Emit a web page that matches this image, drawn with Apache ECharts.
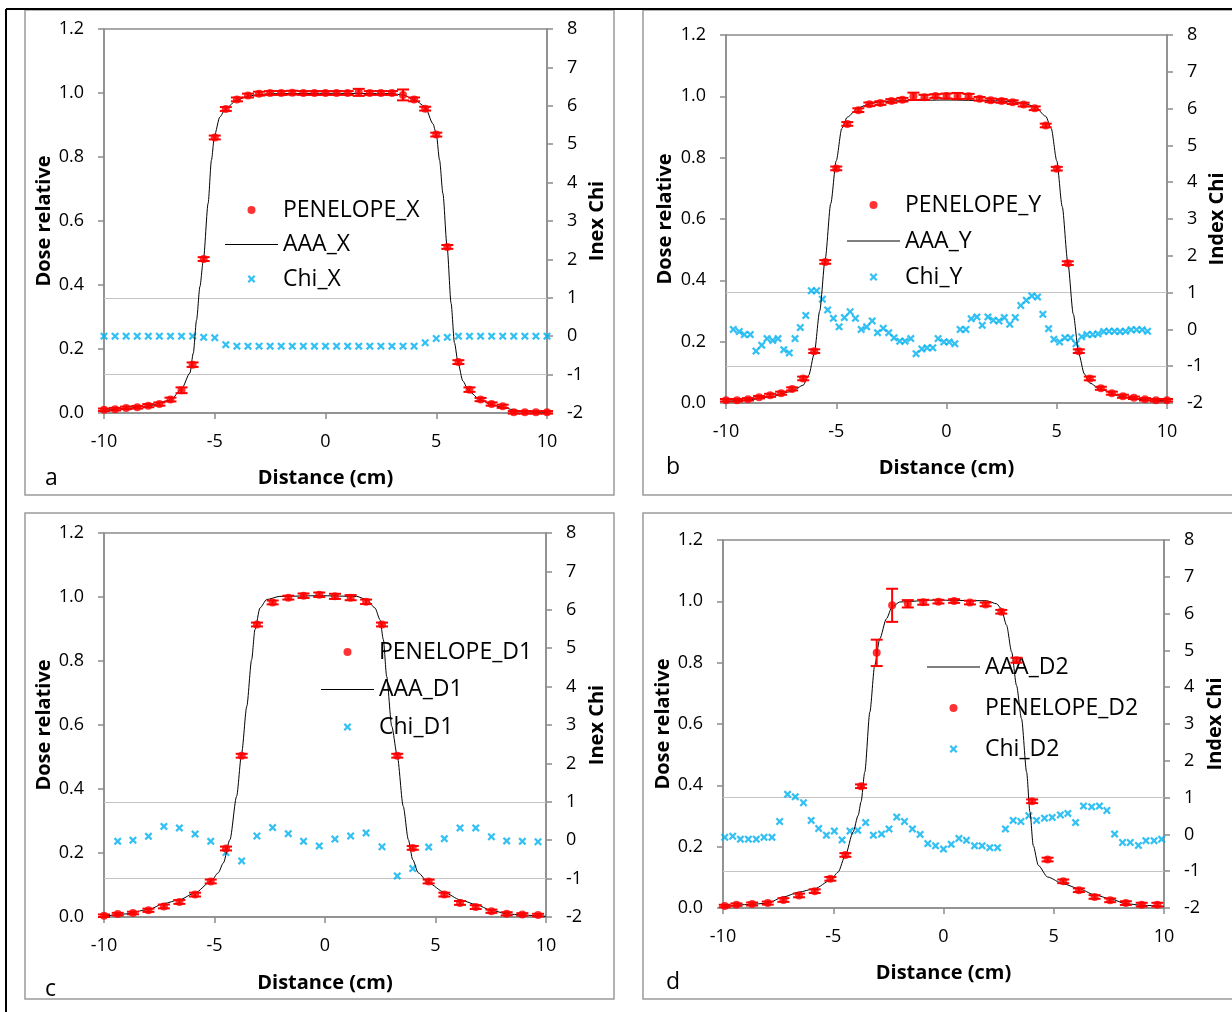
<!DOCTYPE html>
<html><head><meta charset="utf-8">
<script src="https://cdn.jsdelivr.net/npm/echarts@6/dist/echarts.min.js"></script>
<style>html,body{margin:0;padding:0;background:#fff}#c{width:1232px;height:1012px}</style>
</head><body><div id="c"></div>
<script>
// ---------------- DATA ----------------
// Panel a (X profile)
const penX_x = [-10,-9.5,-9,-8.5,-8,-7.5,-7,-6.5,-6,-5.5,-5,-4.5,-4,-3.5,-3,-2.5,-2,-1.5,-1,-0.5,0,0.5,1,1.5,2,2.5,3,3.5,4,4.5,5,5.5,6,6.5,7,7.5,8,8.5,9,9.5,10];
const penX_y = [0.010,0.012,0.016,0.018,0.023,0.028,0.042,0.071,0.151,0.481,0.861,0.950,0.980,0.992,0.998,1.000,1.000,1.001,1.000,1.000,1.000,1.000,1.000,1.002,1.000,1.000,1.000,0.994,0.980,0.951,0.870,0.519,0.159,0.073,0.042,0.028,0.021,0.002,0.002,0.002,0.002];
const penX_err = [0.004,0.004,0.004,0.004,0.005,0.005,0.006,0.009,0.007,0.006,0.006,0.006,0.006,0.006,0.006,0.006,0.006,0.006,0.006,0.006,0.006,0.006,0.006,0.011,0.006,0.006,0.006,0.017,0.006,0.006,0.006,0.006,0.006,0.007,0.005,0.005,0.005,0.004,0.004,0.004,0.004];
const aaaX_x = [-10,-9,-8,-7,-6.5,-6.12,-5.97,-5.82,-5.67,-5.51,-5.30,-5.15,-5.01,-4.77,-4.52,-4.02,-3.51,-3.01,-2.52,0,2.98,3.49,3.99,4.49,4.85,5.0,5.15,5.30,5.49,5.67,5.82,5.99,6.20,6.48,6.98,7.49,7.99,8.48,8.98,9.49,10];
const aaaX_y = [0.008,0.014,0.022,0.040,0.075,0.125,0.187,0.291,0.395,0.481,0.655,0.790,0.868,0.925,0.950,0.977,0.990,0.995,0.998,0.999,0.998,0.994,0.980,0.958,0.904,0.873,0.790,0.686,0.519,0.343,0.220,0.155,0.100,0.067,0.042,0.026,0.018,0.010,0.005,0.003,0.002];
const chiX_x = [-10,-9.5,-9,-8.5,-8,-7.5,-7,-6.5,-6,-5.5,-5,-4.5,-4,-3.5,-3,-2.5,-2,-1.5,-1,-0.5,0,0.5,1,1.5,2,2.5,3,3.5,4,4.5,5,5.5,6,6.5,7,7.5,8,8.5,9,9.5,10];
const chiX_y = [0,0,0,0,0,0,0,0,0,-0.03,-0.04,-0.22,-0.26,-0.26,-0.26,-0.26,-0.26,-0.26,-0.26,-0.26,-0.26,-0.26,-0.26,-0.26,-0.26,-0.26,-0.26,-0.26,-0.26,-0.17,-0.06,-0.03,0,0,0,0,0,0,0,0,0];

// Panel b (Y profile)
const penY_x = [-10,-9.5,-9,-8.5,-8,-7.5,-7,-6.5,-6,-5.5,-5,-4.5,-4,-3.5,-3,-2.5,-2,-1.5,-1,-0.5,0,0.5,1,1.5,2,2.5,3,3.5,4,4.5,5,5.5,6,6.5,7,7.5,8,8.5,9,9.5,10];
const penY_y = [0.009,0.009,0.012,0.019,0.025,0.032,0.046,0.080,0.169,0.460,0.765,0.910,0.955,0.974,0.978,0.985,0.989,1.000,0.997,1.001,1.001,1.001,1.000,0.992,0.987,0.985,0.981,0.973,0.961,0.905,0.764,0.456,0.169,0.080,0.048,0.032,0.022,0.017,0.012,0.009,0.009];
const penY_err = [0.004,0.004,0.004,0.004,0.005,0.005,0.005,0.006,0.006,0.006,0.006,0.006,0.006,0.006,0.006,0.006,0.006,0.012,0.008,0.006,0.008,0.010,0.008,0.006,0.006,0.006,0.006,0.006,0.006,0.006,0.006,0.006,0.006,0.006,0.005,0.005,0.005,0.004,0.004,0.004,0.004];
const aaaY_x = [-10,-9,-8,-7,-6.5,-6.25,-6.0,-5.75,-5.5,-5.25,-5.0,-4.75,-4.5,-4.0,-3.5,-3.0,-2.0,0,2.0,3.0,3.5,4.0,4.5,4.75,5.0,5.25,5.5,5.75,6.0,6.25,6.5,7,8,9,10];
const aaaY_y = [0.005,0.010,0.020,0.038,0.058,0.090,0.160,0.300,0.470,0.650,0.790,0.895,0.932,0.963,0.975,0.983,0.986,0.988,0.986,0.983,0.977,0.967,0.935,0.895,0.790,0.640,0.460,0.290,0.160,0.095,0.065,0.043,0.020,0.010,0.007];
const chiY_x = [-9.67,-9.4,-9.17,-8.9,-8.64,-8.38,-8.14,-7.88,-7.64,-7.38,-7.13,-6.87,-6.63,-6.38,-6.13,-5.89,-5.63,-5.39,-5.13,-4.87,-4.63,-4.37,-4.13,-3.87,-3.62,-3.37,-3.13,-2.87,-2.62,-2.38,-2.12,-1.88,-1.62,-1.38,-1.12,-0.88,-0.62,-0.38,-0.12,0.12,0.38,0.62,0.88,1.12,1.38,1.62,1.88,2.12,2.38,2.62,2.87,3.12,3.37,3.62,3.87,4.13,4.37,4.63,4.87,5.13,5.37,5.63,5.87,6.13,6.37,6.63,6.87,7.13,7.37,7.62,7.87,8.12,8.37,8.62,8.87,9.12];
const chiY_y = [0.0,-0.06,-0.14,-0.14,-0.59,-0.43,-0.25,-0.30,-0.25,-0.55,-0.64,-0.25,0.05,0.38,1.05,1.05,0.82,0.53,0.30,0.07,0.32,0.48,0.30,0.0,0.07,0.23,-0.09,0.03,-0.09,-0.23,-0.32,-0.32,-0.25,-0.66,-0.53,-0.50,-0.50,-0.25,-0.34,-0.34,-0.39,0.0,0.0,0.29,0.34,0.11,0.34,0.25,0.23,0.32,0.14,0.32,0.65,0.79,0.91,0.88,0.41,0.02,-0.27,-0.34,-0.23,-0.23,-0.39,-0.20,-0.14,-0.14,-0.12,-0.06,-0.05,-0.05,-0.06,-0.05,-0.01,-0.01,-0.01,-0.05];

// Panel c (diagonal D1)
const penD1_x = [-10.0,-9.38,-8.69,-7.99,-7.29,-6.59,-5.88,-5.17,-4.48,-3.77,-3.08,-2.37,-1.66,-0.97,-0.26,0.45,1.16,1.86,2.58,3.27,3.97,4.69,5.40,6.11,6.82,7.53,8.22,8.93,9.64];
const penD1_y = [0.004,0.009,0.0125,0.021,0.033,0.047,0.070,0.111,0.214,0.504,0.914,0.983,0.998,1.004,1.007,1.002,0.998,0.985,0.914,0.504,0.216,0.111,0.070,0.044,0.031,0.018,0.010,0.008,0.006];
const penD1_err = [0.004,0.004,0.004,0.005,0.006,0.006,0.006,0.006,0.006,0.006,0.006,0.006,0.006,0.007,0.007,0.008,0.008,0.007,0.006,0.006,0.006,0.006,0.006,0.006,0.006,0.005,0.005,0.004,0.004];
const aaaD1_x = [-10,-9.13,-7.99,-7.29,-6.59,-5.88,-5.17,-4.83,-4.60,-4.30,-4.0,-3.77,-3.54,-3.32,-3.17,-2.94,-2.64,-2.04,-0.26,1.43,1.89,2.26,2.49,2.64,2.79,3.02,3.27,3.54,3.77,3.97,4.22,4.69,5.40,6.11,6.82,7.53,8.22,8.93,10];
const aaaD1_y = [0.002,0.009,0.023,0.042,0.054,0.075,0.111,0.138,0.169,0.242,0.377,0.513,0.658,0.804,0.898,0.966,0.992,1.002,1.004,1.002,0.992,0.966,0.929,0.867,0.752,0.596,0.504,0.346,0.242,0.179,0.138,0.106,0.077,0.054,0.039,0.021,0.010,0.006,0.002];
const chiD1_x = [-9.38,-8.69,-7.99,-7.29,-6.59,-5.88,-5.17,-4.48,-3.77,-3.08,-2.37,-1.66,-0.97,-0.26,0.45,1.16,1.86,2.58,3.27,3.97,4.69,5.40,6.11,6.82,7.53,8.22,8.93,9.64];
const chiD1_y = [-0.03,0.0,0.10,0.36,0.32,0.16,-0.03,-0.32,-0.54,0.11,0.33,0.17,-0.03,-0.15,0.03,0.11,0.19,-0.17,-0.93,-0.74,-0.18,0.04,0.32,0.32,0.09,-0.02,-0.03,-0.04];

// Panel d (diagonal D2)
const penD2_x = [-9.92,-9.39,-8.68,-7.97,-7.26,-6.55,-5.84,-5.13,-4.45,-3.74,-3.03,-2.33,-1.62,-0.92,-0.23,0.48,1.20,1.91,2.62,3.31,4.02,4.72,5.43,6.14,6.85,7.56,8.27,8.99,9.70];
const penD2_y = [0.0065,0.011,0.013,0.016,0.026,0.041,0.055,0.095,0.173,0.397,0.832,0.987,0.992,0.997,0.999,1.001,0.996,0.990,0.966,0.808,0.348,0.158,0.087,0.058,0.036,0.025,0.016,0.011,0.011];
const penD2_err = [0.004,0.004,0.005,0.005,0.006,0.006,0.006,0.006,0.006,0.006,0.043,0.054,0.012,0.008,0.006,0.006,0.006,0.006,0.006,0.008,0.006,0.006,0.006,0.006,0.006,0.006,0.006,0.006,0.006];
const aaaD2_x = [-10,-8.68,-7.97,-7.26,-6.55,-5.84,-5.13,-4.78,-4.45,-4.10,-3.87,-3.74,-3.57,-3.34,-3.12,-2.89,-2.59,-2.33,-1.98,-0.47,1.95,2.41,2.62,2.86,3.09,3.31,3.54,3.77,3.92,4.07,4.30,4.72,5.43,6.14,6.85,7.56,8.27,8.99,10];
const aaaD2_y = [0.005,0.012,0.016,0.036,0.052,0.063,0.090,0.117,0.172,0.248,0.302,0.346,0.443,0.639,0.791,0.878,0.943,0.982,0.998,1.004,1.002,0.992,0.976,0.922,0.835,0.726,0.617,0.443,0.313,0.204,0.139,0.101,0.079,0.063,0.043,0.030,0.014,0.009,0.005];
const chiD2_x = [-9.92,-9.56,-9.21,-8.85,-8.49,-8.14,-7.78,-7.43,-7.07,-6.72,-6.35,-6.0,-5.66,-5.31,-4.95,-4.6,-4.24,-3.89,-3.53,-3.18,-2.81,-2.47,-2.12,-1.77,-1.41,-1.06,-0.71,-0.36,0.0,0.35,0.70,1.04,1.41,1.75,2.1,2.45,2.81,3.16,3.51,3.87,4.22,4.58,4.93,5.3,5.64,5.99,6.35,6.72,7.07,7.41,7.76,8.12,8.47,8.84,9.18,9.55,9.89];
const chiD2_y = [-0.08,-0.05,-0.13,-0.13,-0.13,-0.08,-0.08,0.35,1.09,1.02,0.86,0.38,0.16,-0.02,0.09,-0.15,0.09,0.11,0.32,-0.02,0.01,0.15,0.47,0.35,0.15,0.0,-0.25,-0.31,-0.4,-0.27,-0.11,-0.16,-0.31,-0.31,-0.36,-0.36,0.15,0.38,0.35,0.51,0.38,0.44,0.46,0.53,0.57,0.32,0.77,0.75,0.77,0.65,0.01,-0.22,-0.22,-0.3,-0.17,-0.17,-0.13];

// Axis tick settings
const distTicks = {min: -10, max: 10, interval: 5};
const doseTicks = {min: 0, max: 1.2, interval: 0.2};
const chiTicks = {min: -2, max: 8, interval: 1};
const chiRefLines = [1, -1];

// ---------------- CHART ----------------
const FONT = '"Open Sans", "Noto Sans", sans-serif';
const AX = '#8c8c8c';
const RED = '#FF0000';
const BLUE = '#00B0F0';
const X_ICON = 'path://M0,1.6 L1.6,0 L4,2.4 L6.4,0 L8,1.6 L5.6,4 L8,6.4 L6.4,8 L4,5.6 L1.6,8 L0,6.4 L2.4,4 Z';
const LINE_ICON = 'path://M0,0 L53,0 L53,1.2 L0,1.2 Z';
const zip = (...arrs) => arrs[0].map((_, i) => arrs.map(a => a[i]));

const panels = [
  {grid: {left: 104, top: 29, width: 443, height: 384}, chiName: 'Inex Chi', gapL: 49, gapR: 40, gapX: 55,
   pen: ['PENELOPE_X', penX_x, penX_y, penX_err], aaa: ['AAA_X', aaaX_x, aaaX_y], chi: ['Chi_X', chiX_x, chiX_y],
   legend: {left: 225, top: 198.5, gap: 11.5, order: ['PENELOPE_X', 'AAA_X', 'Chi_X']}},
  {grid: {left: 726, top: 35, width: 441, height: 368}, chiName: 'Index Chi', gapL: 51, gapR: 39, gapX: 55,
   pen: ['PENELOPE_Y', penY_x, penY_y, penY_err], aaa: ['AAA_Y', aaaY_x, aaaY_y], chi: ['Chi_Y', chiY_x, chiY_y],
   legend: {left: 847, top: 193.5, gap: 13, order: ['PENELOPE_Y', 'AAA_Y', 'Chi_Y']}},
  {grid: {left: 104, top: 533, width: 442, height: 384}, chiName: 'Inex Chi', gapL: 49, gapR: 41, gapX: 56,
   pen: ['PENELOPE_D1', penD1_x, penD1_y, penD1_err], aaa: ['AAA_D1', aaaD1_x, aaaD1_y], chi: ['Chi_D1', chiD1_x, chiD1_y],
   legend: {left: 321, top: 640.5, gap: 14.5, order: ['PENELOPE_D1', 'AAA_D1', 'Chi_D1']}},
  {grid: {left: 723, top: 540, width: 441, height: 368}, chiName: 'Index Chi', gapL: 48, gapR: 41, gapX: 55,
   pen: ['PENELOPE_D2', penD2_x, penD2_y, penD2_err], aaa: ['AAA_D2', aaaD2_x, aaaD2_y], chi: ['Chi_D2', chiD2_x, chiD2_y],
   legend: {left: 927, top: 655.5, gap: 18, order: ['AAA_D2', 'PENELOPE_D2', 'Chi_D2']}}
];

const nameStyle = {fontFamily: FONT, fontWeight: 'bold', fontSize: 20, color: '#000'};
const labelStyle = {fontFamily: FONT, fontSize: 18, color: '#000'};
const axLine = {show: true, onZero: false, lineStyle: {color: AX, width: 1.5}};
const axTick = {show: true, inside: false, length: 6, lineStyle: {color: AX, width: 1.5}};

const grids = [], xAxes = [], yAxes = [], series = [], legends = [];
panels.forEach((p, i) => {
  grids.push(Object.assign({show: true, borderColor: AX, borderWidth: 1.5, backgroundColor: 'transparent'}, p.grid));
  xAxes.push(Object.assign({type: 'value', gridIndex: i, position: 'bottom',
    axisLine: axLine, axisTick: axTick, splitLine: {show: false},
    axisLabel: Object.assign({margin: 20}, labelStyle),
    name: 'Distance (cm)', nameLocation: 'middle', nameGap: p.gapX, nameTextStyle: nameStyle}, distTicks));
  yAxes.push(Object.assign({type: 'value', gridIndex: i, position: 'left',
    axisLine: axLine, axisTick: axTick, splitLine: {show: false},
    axisLabel: Object.assign({margin: 20, padding: [4, 0, 0, 0], formatter: v => v.toFixed(1)}, labelStyle),
    name: 'Dose relative', nameLocation: 'middle', nameRotate: 90, nameGap: p.gapL, nameTextStyle: nameStyle}, doseTicks));
  yAxes.push(Object.assign({type: 'value', gridIndex: i, position: 'right',
    axisLine: axLine, axisTick: axTick, splitLine: {show: false},
    axisLabel: Object.assign({margin: 20, padding: [4, 0, 0, 0]}, labelStyle),
    name: p.chiName, nameLocation: 'middle', nameRotate: 90, nameGap: p.gapR, nameTextStyle: nameStyle}, chiTicks));

  const [penName, px, py, pe] = p.pen;
  const [aaaName, ax, ay] = p.aaa;
  const [chiName, cx, cy] = p.chi;

  // chi scatter with reference lines at +/-1
  series.push({
    name: chiName, type: 'scatter', xAxisIndex: i, yAxisIndex: 2 * i + 1, z: 2,
    symbol: X_ICON, symbolSize: 8, itemStyle: {color: BLUE},
    data: zip(cx, cy),
    markLine: {silent: true, symbol: ['none', 'none'], label: {show: false},
      lineStyle: {color: '#C4C4C4', type: 'solid', width: 1}, z: 1,
      data: chiRefLines.map(v => ({yAxis: v}))}
  });
  // AAA line
  series.push({
    name: aaaName, type: 'line', xAxisIndex: i, yAxisIndex: 2 * i, z: 3,
    symbol: 'none', smooth: 0.25, smoothMonotone: 'x',
    lineStyle: {color: '#000', width: 1}, itemStyle: {color: '#000'},
    data: zip(ax, ay)
  });
  // error bars
  series.push({
    type: 'custom', xAxisIndex: i, yAxisIndex: 2 * i, z: 4, silent: true,
    data: zip(px, py, pe), encode: {x: 0, y: 1},
    renderItem: (params, api) => {
      const x = api.value(0), y = api.value(1), e = api.value(2);
      const t = api.coord([x, y + e]), b = api.coord([x, y - e]);
      const hw = 6;
      const st = {stroke: RED, lineWidth: 2};
      return {type: 'group', children: [
        {type: 'line', shape: {x1: t[0], y1: t[1], x2: b[0], y2: b[1]}, style: st},
        {type: 'line', shape: {x1: t[0] - hw, y1: t[1], x2: t[0] + hw, y2: t[1]}, style: st},
        {type: 'line', shape: {x1: b[0] - hw, y1: b[1], x2: b[0] + hw, y2: b[1]}, style: st}
      ]};
    }
  });
  // PENELOPE points
  series.push({
    name: penName, type: 'scatter', xAxisIndex: i, yAxisIndex: 2 * i, z: 5,
    symbol: 'circle', symbolSize: 8, itemStyle: {color: RED},
    data: zip(px, py)
  });

  const icons = {};
  icons[penName] = 'circle'; icons[aaaName] = LINE_ICON; icons[chiName] = X_ICON;
  legends.push({
    orient: 'vertical', left: p.legend.left, top: p.legend.top, padding: 0,
    itemWidth: 53, itemHeight: 8, itemGap: p.legend.gap, selectedMode: false,
    itemStyle: {borderWidth: 0},
    textStyle: {fontFamily: FONT, fontSize: 23, color: '#000'},
    data: p.legend.order.map(n => ({name: n, icon: icons[n]}))
  });
});

const boxStyle = {fill: 'none', stroke: '#9a9a9a', lineWidth: 1.5};
const letterStyle = (t, x, y) => ({type: 'text', left: x, top: y, style: {text: t, font: '23px "Open Sans", sans-serif', fill: '#000'}});
const graphic = [
  {type: 'rect', shape: {x: 25, y: 10, width: 589, height: 485}, style: boxStyle, silent: true, z: -1},
  {type: 'rect', shape: {x: 643, y: 10, width: 600, height: 485}, style: boxStyle, silent: true, z: -1},
  {type: 'rect', shape: {x: 25, y: 513, width: 589, height: 486}, style: boxStyle, silent: true, z: -1},
  {type: 'rect', shape: {x: 643, y: 513, width: 600, height: 486}, style: boxStyle, silent: true, z: -1},
  {type: 'line', shape: {x1: 6, y1: 9, x2: 1232, y2: 9}, style: {stroke: '#000', lineWidth: 2}, silent: true},
  {type: 'line', shape: {x1: 6, y1: 9, x2: 6, y2: 1012}, style: {stroke: '#000', lineWidth: 2}, silent: true},
  letterStyle('a', 45, 467),
  letterStyle('b', 666, 456),
  letterStyle('c', 45, 978),
  letterStyle('d', 666, 971)
];

const chart = echarts.init(document.getElementById('c'), null, {renderer: 'canvas'});
chart.setOption({
  animation: false,
  backgroundColor: '#fff',
  grid: grids, xAxis: xAxes, yAxis: yAxes, series: series, legend: legends, graphic: graphic
});
</script>
</body></html>
